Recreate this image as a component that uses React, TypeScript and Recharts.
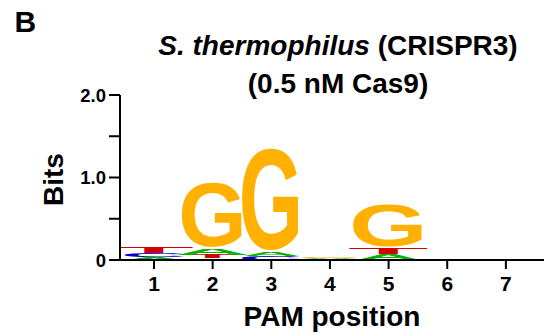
import React from "react";
import { Bar, BarChart, Label, XAxis, YAxis } from "recharts";

// PAM logo, S. thermophilus CRISPR3 at 0.5 nM Cas9
const positions = [1, 2, 3, 4, 5, 6, 7];
const bitsA = [0.03, 0.08, 0.05, 0.01, 0.06, 0, 0];
const bitsC = [0.05, 0.02, 0.045, 0.005, 0.015, 0, 0];
const bitsG = [0, 0.825, 1.29, 0.015, 0.53, 0, 0];
const bitsT = [0.085, 0.045, 0, 0.004, 0.085, 0, 0];
const yTicks = [0, 0.5, 1, 1.5, 2];
const yTickLabels = ["0", "", "1.0", "", "2.0"];

const letters = ["A", "C", "G", "T"];
const bits: Record<string, number[]> = { A: bitsA, C: bitsC, G: bitsG, T: bitsT };

const COLORS: Record<string, string> = {
  A: "#00b400",
  C: "#0000cc",
  G: "#ffb000",
  T: "#d20000",
};

// ink box of the bold glyphs, in em
const GLYPH: Record<string, { x0: number; x1: number; y0: number; y1: number }> = {
  A: { x0: 0.0, x1: 0.719, y0: 0, y1: 0.716 },
  C: { x0: 0.044, x1: 0.681, y0: -0.019, y1: 0.728 },
  G: { x0: 0.044, x1: 0.733, y0: -0.019, y1: 0.728 },
  T: { x0: 0.021, x1: 0.59, y0: 0, y1: 0.716 },
};

const FONT = "'Liberation Sans', Arial, Helvetica, sans-serif";

// stack order per column: smallest at the bottom
const rows = positions.map((pos, i) => {
  const items = letters
    .map((l) => ({ l, v: bits[l][i] }))
    .sort((a, b) => a.v - b.v);
  const row: Record<string, any> = { pos };
  items.forEach((it, k) => {
    row[`v${k}`] = it.v;
    row[`n${k}`] = it.l;
  });
  return row;
});

// glyph width follows its height a bit, like the source logo
function inkWidth(h: number) {
  const pts = [
    [0, 58],
    [5, 58],
    [6, 75],
    [36, 75],
    [55, 62],
    [102, 57],
    [400, 57],
  ];
  for (let i = 1; i < pts.length; i++) {
    if (h <= pts[i][0]) {
      const [h0, w0] = pts[i - 1];
      const [h1, w1] = pts[i];
      return w0 + ((h - h0) / (h1 - h0)) * (w1 - w0);
    }
  }
  return 57;
}

function Letter(props: any) {
  const { x, y, width, height, payload, layer } = props;
  const letter = payload?.[`n${layer}`];
  if (!letter || !height || height < 0.2) return null;
  const g = GLYPH[letter];
  const F = 100;
  const cx = x + width / 2;
  const w = inkWidth(height);
  const sx = w / ((g.x1 - g.x0) * F);
  const sy = height / ((g.y1 - g.y0) * F);
  const tx = cx - ((g.x0 + g.x1) / 2) * F * sx;
  const ty = y + height + g.y0 * F * sy;
  return (
    <text
      transform={`translate(${tx},${ty}) scale(${sx},${sy})`}
      fontSize={F}
      fontFamily={FONT}
      fontWeight={700}
      fill={COLORS[letter]}
    >
      {letter}
    </text>
  );
}

function XTick({ x, y, payload }: any) {
  return (
    <text x={x} y={y + 16} textAnchor="middle" fontSize={21} fontWeight={700} fontFamily={FONT} fill="#000">
      {payload.value}
    </text>
  );
}

function YTick({ x, y, payload }: any) {
  const s = yTickLabels[yTicks.indexOf(payload.value)];
  if (!s) return <g />;
  return (
    <text x={x} y={y + 6.5} textAnchor="end" fontSize={18.5} fontWeight={700} fontFamily={FONT} fill="#000">
      {s}
    </text>
  );
}

export default function App() {
  return (
    <div style={{ position: "absolute", left: 0, top: 0, width: 544, height: 335, background: "#fff" }}>
      <BarChart
        width={544}
        height={335}
        data={rows}
        margin={{ top: 95, right: 0, bottom: 0, left: 0 }}
        barSize={58}
      >
        <XAxis
          dataKey="pos"
          type="number"
          domain={[0.42, 7.65]}
          allowDataOverflow
          ticks={positions}
          height={75}
          axisLine={{ stroke: "#000", strokeWidth: 2 }}
          tickLine={{ stroke: "#000", strokeWidth: 2 }}
          tickSize={9}
          tickMargin={6}
          tick={<XTick />}
        >
          <Label
            content={({ viewBox }: any) => (
              <text
                x={viewBox.x + viewBox.width / 2}
                y={326}
                textAnchor="middle"
                fontSize={28}
                fontWeight={700}
                fontFamily={FONT}
                fill="#000"
              >
                PAM position
              </text>
            )}
          />
        </XAxis>
        <YAxis
          type="number"
          domain={[0, 2]}
          ticks={yTicks}
          width={120}
          interval={0}
          axisLine={{ stroke: "#000", strokeWidth: 2 }}
          tickLine={{ stroke: "#000", strokeWidth: 2 }}
          tickSize={11}
          tickMargin={3}
          tick={<YTick />}
        >
          <Label
            content={({ viewBox }: any) => (
              <text
                transform={`translate(63,${viewBox.y + viewBox.height / 2 + 2}) rotate(-90)`}
                textAnchor="middle"
                fontSize={28}
                fontWeight={700}
                fontFamily={FONT}
                fill="#000"
              >
                Bits
              </text>
            )}
          />
        </YAxis>
        {[0, 1, 2, 3].map((k) => (
          <Bar
            key={k}
            dataKey={`v${k}`}
            stackId="logo"
            isAnimationActive={false}
            shape={(p: any) => <Letter {...p} layer={k} />}
          />
        ))}
      </BarChart>
      <svg
        width={544}
        height={335}
        style={{ position: "absolute", left: 0, top: 0, pointerEvents: "none" }}
      >
        <text x={14.5} y={31.7} fontSize={30} fontWeight={700} fontFamily={FONT} fill="#000">
          B
        </text>
        <text x={338} y={55} textAnchor="middle" fontSize={28} fontWeight={700} fontFamily={FONT} fill="#000">
          <tspan fontStyle="italic">S. thermophilus</tspan> (CRISPR3)
        </text>
        <text x={338} y={93} textAnchor="middle" fontSize={28} fontWeight={700} fontFamily={FONT} fill="#000">
          (0.5 nM Cas9)
        </text>
      </svg>
    </div>
  );
}
